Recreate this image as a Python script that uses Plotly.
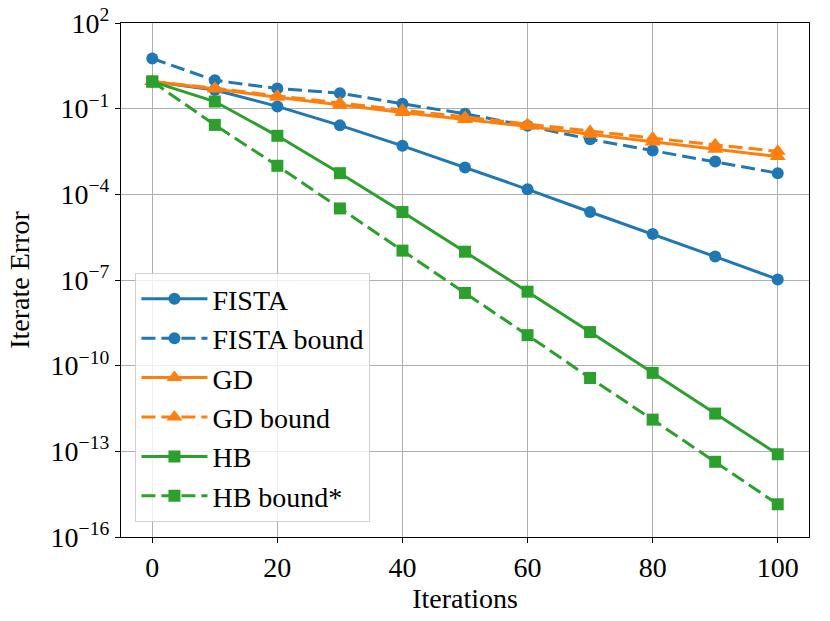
import plotly.graph_objects as go

iters = [0, 10, 20, 30, 40, 50, 60, 70, 80, 90, 100]

fista = [0.89, 0.45, 0.12, 0.026, 5.0e-3, 8.7e-4, 1.5e-4, 2.4e-5, 4.1e-6, 6.6e-7, 1.05e-7]
fista_bound = [5.7, 0.98, 0.51, 0.35, 0.148, 0.066, 0.025, 8.5e-3, 3.4e-3, 1.4e-3, 5.5e-4]
gd = [0.89, 0.49, 0.25, 0.132, 0.074, 0.042, 0.024, 0.0126, 6.8e-3, 3.8e-3, 2.1e-3]
gd_bound = [0.89, 0.52, 0.28, 0.158, 0.089, 0.050, 0.028, 0.0158, 9.3e-3, 5.4e-3, 3.2e-3]
hb = [0.89, 0.178, 0.0112, 5.5e-4, 2.4e-5, 9.8e-7, 3.9e-8, 1.5e-9, 5.6e-11, 2.1e-12, 7.9e-14]
hb_bound = [0.89, 0.027, 1.0e-3, 3.2e-5, 1.07e-6, 3.5e-8, 1.17e-9, 3.7e-11, 1.29e-12, 4.3e-14, 1.4e-15]

y_tick_exp = [2, -1, -4, -7, -10, -13, -16]
x_ticks = [0, 20, 40, 60, 80, 100]

BLUE = '#1f77b4'
ORANGE = '#ff7f0e'
GREEN = '#2ca02c'
FONT = 'Liberation Serif'
DASH = '14px,6px'

series = [
    ('FISTA', fista, BLUE, 'circle', 'solid', 12),
    ('FISTA bound', fista_bound, BLUE, 'circle', DASH, 12),
    ('GD', gd, ORANGE, 'triangle-up', 'solid', 14),
    ('GD bound', gd_bound, ORANGE, 'triangle-up', DASH, 14),
    ('HB', hb, GREEN, 'square', 'solid', 12),
    ('HB bound*', hb_bound, GREEN, 'square', DASH, 12),
]

fig = go.Figure()
for name, vals, color, symbol, dash, size in series:
    fig.add_trace(go.Scatter(
        name=name,
        x=iters,
        y=vals,
        mode='lines+markers',
        line=dict(color=color, width=3, dash=dash),
        marker=dict(symbol=symbol, size=size, color=color),
    ))

axis_common = dict(
    automargin=False,
    showline=True,
    linecolor='black',
    linewidth=1.3,
    mirror=True,
    ticks='outside',
    ticklen=5,
    tickcolor='black',
    ticklabeloverflow='allow',
    showgrid=True,
    gridcolor='#b0b0b0',
    gridwidth=1.2,
    zeroline=False,
    tickfont=dict(family=FONT, size=28, color='black'),
)

fig.update_xaxes(
    range=[-5, 105],
    tickvals=x_ticks,
    title=dict(text='Iterations', font=dict(family=FONT, size=28, color='black'), standoff=0),
    **axis_common,
)
fig.update_yaxes(
    type='log',
    range=[-16, 2],
    tickvals=[10.0 ** e for e in y_tick_exp],
    ticktext=['10<sup>%s</sup>' % (str(e).replace('-', '\u2212')) for e in y_tick_exp],
    title=dict(text='Iterate Error', font=dict(family=FONT, size=28, color='black'), standoff=12),
    **axis_common,
)

fig.update_layout(
    width=830,
    height=621,
    margin=dict(l=121, r=21, t=23, b=84),
    plot_bgcolor='white',
    paper_bgcolor='white',
    font=dict(family=FONT, size=28, color='black'),
    legend=dict(
        x=0.021,
        y=0.029,
        xanchor='left',
        yanchor='bottom',
        bgcolor='rgba(255,255,255,0.8)',
        bordercolor='#d0d0d0',
        borderwidth=1,
        itemwidth=66,
        font=dict(family=FONT, size=28, color='black'),
    ),
)

# drop the default page margin so the figure sits at the window corner
fig.write_html(
    'out.html',
    config={'displayModeBar': False},
    post_script="document.body.style.margin='0';",
)
